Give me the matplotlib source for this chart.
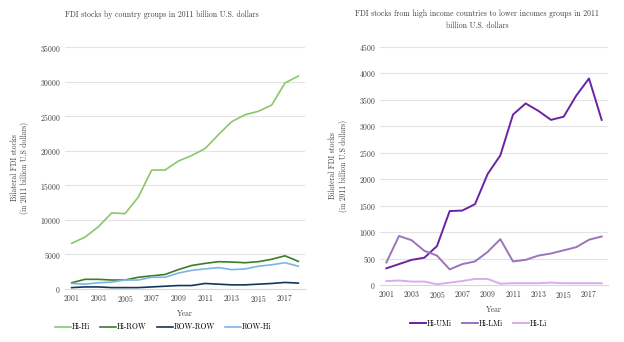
import matplotlib
matplotlib.use("Agg")
import matplotlib.pyplot as plt

plt.rcParams['font.family'] = ['cmr10', 'DejaVu Serif']
plt.rcParams['axes.unicode_minus'] = False
plt.rcParams['axes.formatter.use_mathtext'] = True

years = list(range(2001, 2019))

# left chart: FDI stocks by country groups
hi_hi = [6600, 7500, 9000, 11000, 10900, 13300, 17200, 17200, 18500, 19300,
         20300, 22300, 24200, 25200, 25700, 26600, 29800, 30800]
hi_row = [900, 1400, 1400, 1300, 1300, 1700, 1900, 2100, 2800, 3400,
          3700, 3950, 3900, 3800, 3950, 4300, 4800, 4000]
row_row = [200, 300, 300, 200, 200, 200, 300, 400, 500, 500,
           800, 700, 600, 600, 700, 800, 950, 850]
row_hi = [800, 700, 900, 1000, 1300, 1300, 1700, 1700, 2300, 2700,
          2900, 3100, 2800, 2900, 3300, 3500, 3800, 3300]

# right chart: from high income to lower income groups
hi_umi = [320, 400, 480, 520, 740, 1400, 1410, 1530, 2100, 2450,
          3220, 3430, 3290, 3120, 3180, 3580, 3900, 3120]
hi_lmi = [430, 930, 850, 650, 560, 300, 400, 450, 630, 870,
          450, 480, 560, 600, 660, 720, 860, 920]
hi_li = [80, 90, 70, 70, 20, 50, 80, 120, 120, 30,
         40, 40, 40, 50, 40, 40, 40, 40]

fig = plt.figure(figsize=(6.24, 3.42), dpi=100)
ax1 = fig.add_axes([65/624, 1 - 289/342, 240/624, 242/342])
ax2 = fig.add_axes([380/624, 1 - 285.3/342, 228/624, 238.6/342])


def style(ax, ymax, step):
    ax.set_xlim(2000.5, 2018.5)
    ax.set_ylim(0, ymax)
    ax.set_yticks(range(0, ymax + 1, step))
    ax.set_xticks(range(2001, 2018, 2))
    ax.grid(axis='y', color='#e3e3e3', linewidth=0.8)
    ax.set_axisbelow(True)
    for s in ax.spines.values():
        s.set_visible(False)
    ax.spines['bottom'].set_visible(True)
    ax.spines['bottom'].set_color('#d9d9d9')
    ax.tick_params(length=0, labelsize=5.5, colors='#404040', pad=3)
    ax.set_xlabel('Year', fontsize=5.5, color='#404040', labelpad=4)
    ax.set_ylabel('Bilateral FDI stocks\n(in 2011 billion U.S dollars)',
                  fontsize=5.5, color='#404040', labelpad=8)


leg_kw = dict(frameon=False, fontsize=5.5, handlelength=2.1,
              columnspacing=1.3, handletextpad=0.1)

ax1.plot(years, hi_hi, color='#8cc66b', lw=1.2, label='Hi-Hi')
ax1.plot(years, hi_row, color='#3b7d2a', lw=1.2, label='Hi-ROW')
ax1.plot(years, row_row, color='#12375f', lw=1.2, label='ROW-ROW')
ax1.plot(years, row_hi, color='#7eb3e6', lw=1.2, label='ROW-Hi')
style(ax1, 35000, 5000)
fig.text(162/624, 1 - 15/342,
         'FDI stocks by country groups in 2011 billion U.S. dollars',
         fontsize=5.6, color='#404040', ha='center', va='center')
ax1.legend(loc='center', bbox_to_anchor=(0.41, -0.157), ncol=4, **leg_kw)

ax2.plot(years, hi_umi, color='#6a23a3', lw=1.4, label='Hi-UMi')
ax2.plot(years, hi_lmi, color='#9b74bd', lw=1.4, label='Hi-LMi')
ax2.plot(years, hi_li, color='#dcaaf0', lw=1.4, label='Hi-Li')
style(ax2, 4500, 500)
fig.text(477/624, 1 - 20/342,
         'FDI stocks from high income countries to lower incomes groups in 2011\nbillion U.S. dollars',
         fontsize=5.6, color='#404040', ha='center', va='center',
         linespacing=1.5)
ax2.legend(loc='center', bbox_to_anchor=(0.432, -0.162), ncol=3, **leg_kw)

fig.savefig('out.png', dpi=100)
